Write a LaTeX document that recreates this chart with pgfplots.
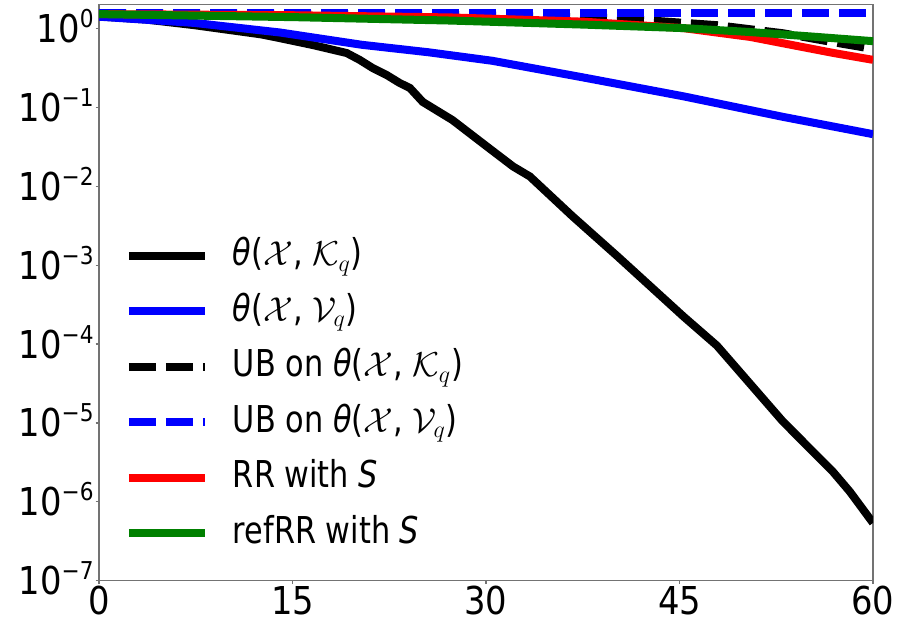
\documentclass[border=0pt]{standalone}
\usepackage{fontspec}
\setmainfont{DejaVu Sans}[FakeStretch=0.82]
\newfontfamily\tickfont{DejaVu Sans}[FakeStretch=0.88]
\usepackage{pgfplots}
\pgfplotsset{compat=1.18}
\newcommand{\tk}[1]{10\raisebox{7.5pt}[0pt][0pt]{\fontsize{12.3}{12}\selectfont #1}}
\definecolor{mplgreen}{RGB}{0,128,0}
\begin{document}
\fontsize{18.5}{22}\selectfont
\begin{tikzpicture}
\begin{axis}[
  name=ax,
  scale only axis,
  width=387pt, height=288pt,
  xmin=0, xmax=60,
  ymode=log, ymin=1e-7, ymax=2,
  xtick={0,15,30,45,60},
  xticklabels={0,15,30,45,60},
  ytick={1e-7,1e-6,1e-5,1e-4,1e-3,1e-2,1e-1,1},
  yticklabels={\tk{−7},\tk{−6},\tk{−5},\tk{−4},\tk{−3},\tk{−2},\tk{−1},\tk{0}},
  minor y tick style={draw=none},
  tick align=outside,
  major tick length=1.75pt,
  tick style={black!55, line width=0.6pt},
  axis line style={black!55, line width=0.6pt},
  xtick pos=bottom, ytick pos=left,
  tick label style={font=\tickfont\fontsize{19.2}{22}\selectfont},
  xticklabel style={anchor=north, inner sep=0pt, yshift=-0.75pt},
  yticklabel style={anchor=east, inner sep=0pt, xshift=-0.75pt},
  clip=true,
  legend cell align=left,
  legend style={draw=none, fill=none, at={(0.033,0.323)}, anchor=west,
    font=\fontsize{18.5}{22}\selectfont, row sep=7.75pt, inner sep=0pt,
    nodes={inner sep=0pt, text height=15pt, text depth=5pt},
    /tikz/every odd column/.append style={column sep=12pt}},
  legend image code/.code={\draw[#1] (0pt,0pt) -- (38pt,0pt);},
]
\addplot[black, line width=4pt] coordinates {
(0,1.42) (3.6,1.30) (7.4,1.10) (12.6,0.84) (14.0,0.755) (16.6,0.615) (19.2,0.488)
(20.2,0.40) (21.2,0.316) (22.3,0.257) (23.3,0.204) (24.1,0.176) (25.1,0.117)
(27.4,0.069) (30.1,0.0316) (32.1,0.0178) (33.4,0.0133) (36.7,0.00417) (40.2,0.00129)
(45.3,2.24e-4) (47.9,9.55e-5) (53.0,1.05e-5) (56.9,2.4e-6) (58.2,1.35e-6) (60,5.4e-7)
};
\addlegendentry{{\itshape θ}($\mathcal{X}$, $\mathcal{K}_{q}$)}
\addplot[blue, line width=4pt] coordinates {
(0,1.41) (7.4,1.175) (14.0,0.89) (20.4,0.62) (25.5,0.50) (30.5,0.389)
(37.5,0.24) (45.3,0.138) (53.0,0.0759) (60,0.0457)
};
\addlegendentry{{\itshape θ}($\mathcal{X}$, $\mathcal{V}_{q}$)}
\addplot[black, line width=4pt, dash pattern=on 13.5pt off 5pt] coordinates {
(0,1.57) (10,1.55) (20,1.52) (30,1.46) (40.2,1.35) (47.9,1.10) (53.0,0.87) (56.9,0.67) (60,0.55)
};
\addlegendentry{UB on {\itshape θ}($\mathcal{X}$, $\mathcal{K}_{q}$)}
\addplot[blue, line width=4pt, dash pattern=on 13.5pt off 5pt] coordinates {
(0,1.5708) (60,1.5708)
};
\addlegendentry{UB on {\itshape θ}($\mathcal{X}$, $\mathcal{V}_{q}$)}
\addplot[red, line width=4pt] coordinates {
(0,1.52) (15.2,1.47) (27.2,1.38) (37.5,1.22) (45.3,1.01) (50.5,0.78) (53,0.65) (56.9,0.49) (60,0.40)
};
\addlegendentry{RR with {\itshape S}}
\addplot[mplgreen, line width=4pt] coordinates {
(0,1.52) (15.2,1.39) (27.2,1.26) (37.5,1.12) (45.3,1.01) (50.5,0.90) (55.7,0.78) (60,0.69)
};
\addlegendentry{refRR with {\itshape S}}
\end{axis}
\pgfresetboundingbox
\path[use as bounding box] ([shift={(-49.5pt,-23.5pt)}]ax.south west) rectangle ([shift={(14.5pt,2.35pt)}]ax.north east);
\end{tikzpicture}
\end{document}
